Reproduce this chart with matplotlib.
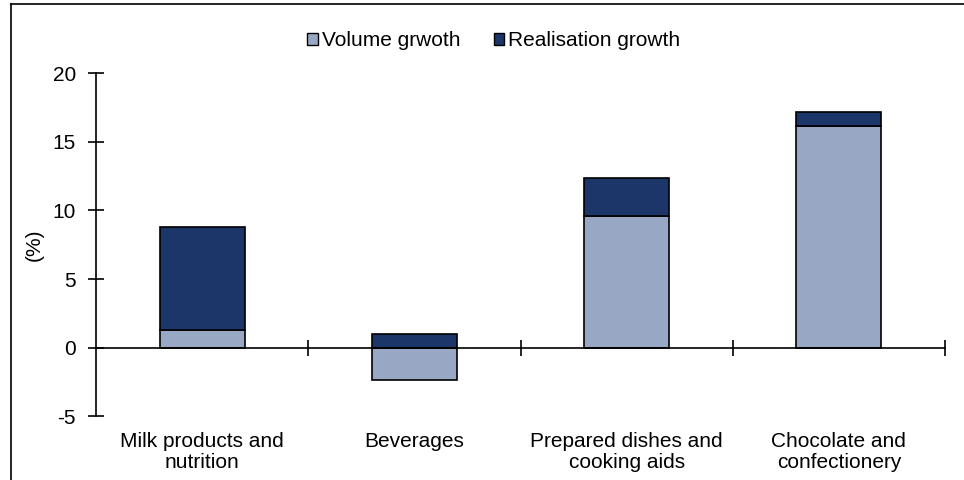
import numpy as np
import matplotlib
matplotlib.use("Agg")
import matplotlib.pyplot as plt
from matplotlib.lines import Line2D
from matplotlib.patches import Patch

plt.rcParams['font.family'] = ['Liberation Sans', 'DejaVu Sans']
plt.rcParams['font.size'] = 15

categories = ["Milk products and\nnutrition", "Beverages",
              "Prepared dishes and\ncooking aids", "Chocolate and\nconfectionery"]
volume_growth = [1.3, -2.4, 9.6, 16.2]
realisation_growth = [7.5, 1.0, 2.8, 1.0]
series_names = ["Volume grwoth", "Realisation growth"]
y_ticks = [-5, 0, 5, 10, 15, 20]

LIGHT = "#98A8C4"
DARK = "#1C366A"

fig = plt.figure(figsize=(9.64, 4.8), dpi=100)
ax = fig.add_axes([0.0996, 0.1333, 0.8807, 0.7136])

x = np.arange(len(categories)) + 0.5
vol = np.array(volume_growth)
real = np.array(realisation_growth)

ax.bar(x, vol, width=0.4, color=LIGHT, edgecolor="black", linewidth=1.2, zorder=2)
ax.bar(x, real, width=0.4, bottom=np.maximum(vol, 0), color=DARK,
       edgecolor="black", linewidth=1.2, zorder=2)

ax.set_xlim(0, len(categories))
ax.set_ylim(-5, 20)
ax.set_yticks(y_ticks)
ax.set_yticklabels([str(v) for v in y_ticks])

for side in ("top", "right"):
    ax.spines[side].set_visible(False)
ax.spines["left"].set_linewidth(1.2)
ax.spines["bottom"].set_position(("data", 0))
ax.spines["bottom"].set_linewidth(1.2)
ax.spines["bottom"].set_zorder(3)

ax.tick_params(axis="y", direction="inout", length=11, width=1.2, pad=9)
# boundaries between categories get the ticks, centres get the labels
ax.set_xticks(np.arange(1, len(categories) + 1))
ax.set_xticklabels([])
ax.tick_params(axis="x", which="major", direction="inout", length=11, width=1.2)
ax.set_xticks(x, minor=True)
ax.set_xticklabels(categories, minor=True, linespacing=1.12)
ax.tick_params(axis="x", which="minor", length=0, pad=61)

ax.set_ylabel("(%)")
ax.yaxis.set_label_coords(-0.062, 0.5)

handles = [Patch(facecolor=LIGHT, edgecolor="black", linewidth=1.0),
           Patch(facecolor=DARK, edgecolor="black", linewidth=1.0)]
fig.legend(handles, series_names, loc="center", bbox_to_anchor=(494 / 964, 1 - 41 / 480),
           ncol=2, frameon=False, handlelength=0.5, handleheight=0.5,
           handletextpad=0.2, columnspacing=1.6)

# outer frame
fig.add_artist(Line2D([11 / 964, 1], [1 - 4 / 480, 1 - 4 / 480],
                      transform=fig.transFigure, color="black", linewidth=1.2))
fig.add_artist(Line2D([11 / 964, 11 / 964], [0, 1 - 4 / 480],
                      transform=fig.transFigure, color="black", linewidth=1.2))

fig.savefig("out.png", dpi=100)
